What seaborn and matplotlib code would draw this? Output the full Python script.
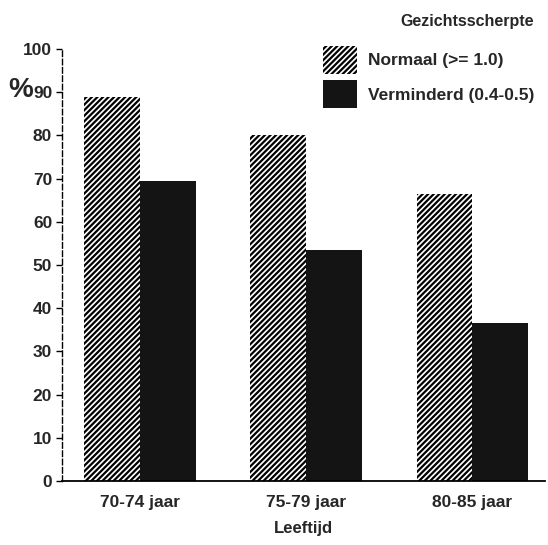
import numpy as np
import pandas as pd
import matplotlib
matplotlib.use("Agg")
import matplotlib.pyplot as plt
from matplotlib.patches import Patch
import seaborn as sns

# leeftijdsgroepen en percentages per gezichtsscherpte
AGES = ["70-74 jaar", "75-79 jaar", "80-85 jaar"]
GROUPS = ["Normaal (>= 1.0)", "Verminderd (0.4-0.5)"]
NORMAAL = [89, 80, 66.5]
VERMINDERD = [69.5, 53.5, 36.5]
YTICKS = list(range(0, 101, 10))

df = pd.DataFrame({
    "Leeftijd": AGES * 2,
    "groep": [GROUPS[0]] * 3 + [GROUPS[1]] * 3,
    "pct": NORMAAL + VERMINDERD,
})

sns.set_theme(style="white")
plt.rcParams.update({"font.family": ["Liberation Sans", "DejaVu Sans"],
                     "font.weight": "bold", "hatch.linewidth": 1.6,
                     "hatch.color": "black"})

fig = plt.figure(figsize=(5.48, 5.45), dpi=100)
ax = fig.add_axes([0.113, 0.1174, 0.882, 0.7926])

sns.barplot(data=df, x="Leeftijd", y="pct", hue="groep", ax=ax,
            palette=["white", "#141414"], width=0.67, gap=0,
            edgecolor="none", legend=False, saturation=1)

# hatch op de "Normaal" balken
for bar in ax.patches[:3]:
    bar.set_hatch("//////")
    bar.set_edgecolor("black")
    bar.set_linewidth(0)

ax.set_ylim(0, 100)
ax.set_xlim(-0.47, 2.44)
ax.set_yticks(YTICKS)
ax.set_yticklabels([str(t) for t in YTICKS], fontsize=12.5, fontweight="bold")
ax.tick_params(axis="y", direction="out", length=4, width=1, color="black", pad=3, left=True)
ax.tick_params(axis="x", length=0, pad=10, labelsize=12.5)
for lab in ax.get_xticklabels():
    lab.set_fontweight("bold")
ax.set_xlabel("Leeftijd", fontsize=12, fontweight="bold", labelpad=8)
ax.set_ylabel("")

for s in ["top", "right"]:
    ax.spines[s].set_visible(False)
ax.spines["left"].set_linestyle((0, (4, 2)))
ax.spines["left"].set_linewidth(1)
ax.spines["left"].set_color("black")
ax.spines["bottom"].set_linewidth(1.3)
ax.spines["bottom"].set_color("black")

fig.text(0.015, 0.835, "%", fontsize=20, fontweight="bold", ha="left", va="center")

handles = [Patch(facecolor="white", hatch="//////", edgecolor="black", linewidth=0),
           Patch(facecolor="#141414", edgecolor="none")]
leg = fig.legend(handles, GROUPS, title="Gezichtsscherpte", loc="upper right",
                 bbox_to_anchor=(1.0, 1.0), frameon=False, fontsize=12.5,
                 title_fontproperties={"weight": "bold", "size": 11.5},
                 handlelength=1.95, handleheight=2.1, handletextpad=0.6,
                 labelspacing=0.4, borderpad=0.3)
leg._legend_box.align = "right"
leg._legend_box.sep = 12
for t in leg.get_texts():
    t.set_fontweight("bold")

fig.savefig("out.png", dpi=100)
